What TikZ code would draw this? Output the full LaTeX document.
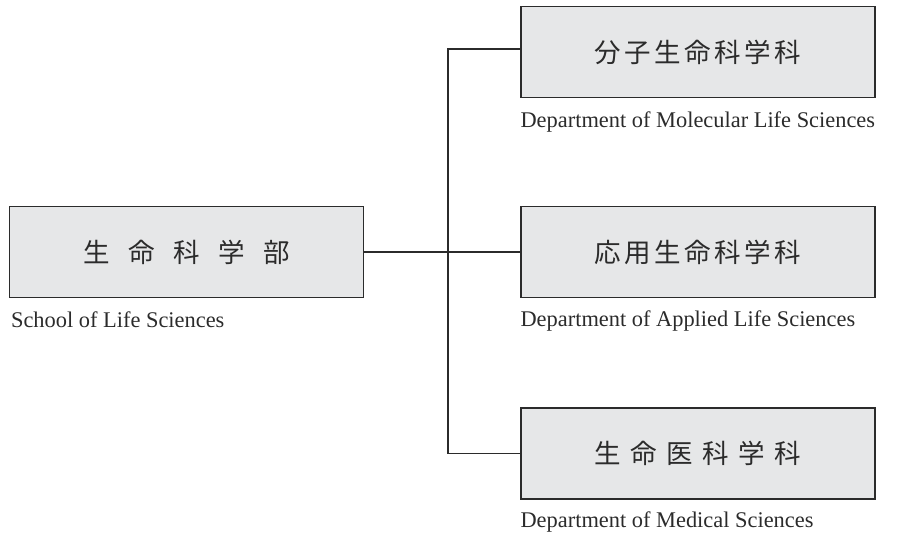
\documentclass[tikz,border=0pt]{standalone}
\usepackage{fontspec}
\setmainfont{Liberation Serif}
\newfontfamily\jp{Noto Sans CJK JP}
\definecolor{boxfill}{HTML}{E6E7E8}
\definecolor{ink}{HTML}{2B2B2B}
\tikzset{
  unit/.style={draw=ink, line width=1.3pt, fill=boxfill, minimum width=354pt,
    minimum height=91pt, inner sep=0pt, text=ink, font=\jp\fontsize{26.5}{30}\selectfont},
  caption/.style={anchor=base west, inner sep=0pt, text=ink,
    font=\fontsize{22.4}{26}\selectfont},
  link/.style={draw=ink, line width=1.2pt}
}
\begin{document}
\begin{tikzpicture}[x=1pt, y=-1pt]
      \useasboundingbox (0,0) rectangle (917,537);
      \node[unit] (school) at (186.5,252)
        {生\hspace{18.5pt}命\hspace{18.5pt}科\hspace{18.5pt}学\hspace{18.5pt}部};
      \node[unit] (mol) at (698,52)
        {分\hspace{3.5pt}子\hspace{3.5pt}生\hspace{3.5pt}命\hspace{3.5pt}科\hspace{3.5pt}学\hspace{3.5pt}科};
      \node[unit] (app) at (698,252)
        {応\hspace{3.5pt}用\hspace{3.5pt}生\hspace{3.5pt}命\hspace{3.5pt}科\hspace{3.5pt}学\hspace{3.5pt}科};
      \node[unit] (med) at (698,453.5)
        {生\hspace{9.5pt}命\hspace{9.5pt}医\hspace{9.5pt}科\hspace{9.5pt}学\hspace{9.5pt}科};
      % captions under the boxes
      \node[caption] (schoolLab) at ([xshift=2pt,yshift=-29pt]school.south west)
        {School of Life Sciences};
      \node[caption] (molLab) at ([yshift=-29pt]mol.south west)
        {Department of Molecular Life Sciences};
      \node[caption] (appLab) at ([yshift=-28pt]app.south west)
        {Department of Applied Life Sciences};
      \node[caption] (medLab) at ([yshift=-28pt]med.south west)
        {Department of Medical Sciences};
      \coordinate (fork) at (448,252);
      \begin{scope}[link]
        \draw (school.east) -- (app.west);
        \draw ([yshift=3pt]mol.west) -| (fork) |- (med.west);
      \end{scope}
    \end{tikzpicture}
\end{document}
